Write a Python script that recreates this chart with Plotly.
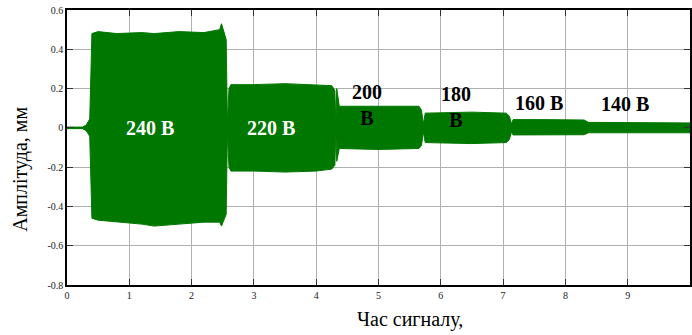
import plotly.graph_objects as go

# Envelope of the vibration signal
time_s = [0.00, 0.25, 0.31, 0.35, 0.365, 0.40, 0.50, 0.80, 1.20, 1.40, 1.80, 2.20, 2.45, 2.48, 2.52, 2.555,
          2.575, 2.60, 2.63, 3.00, 3.50, 4.00, 4.25, 4.30, 4.315, 4.33, 4.37, 5.00, 5.65, 5.69,
          5.72, 5.75, 6.50, 7.05, 7.10, 7.135, 7.16, 7.60, 8.30, 8.37, 9.00, 10.00]
upper_mm = [0.004, 0.004, 0.015, 0.035, 0.045, 0.48, 0.49, 0.48, 0.485, 0.48, 0.49, 0.485, 0.50, 0.53, 0.48, 0.45,
            0.02, 0.20, 0.22, 0.22, 0.225, 0.22, 0.215, 0.19, 0.02, 0.20, 0.11, 0.11, 0.11, 0.09,
            0.02, 0.075, 0.08, 0.075, 0.06, 0.02, 0.042, 0.042, 0.04, 0.028, 0.026, 0.025]
lower_mm = [-0.004, -0.004, -0.015, -0.035, -0.045, -0.46, -0.47, -0.48, -0.49, -0.50, -0.49, -0.48, -0.48, -0.50, -0.47, -0.44,
            -0.02, -0.20, -0.22, -0.22, -0.225, -0.22, -0.21, -0.19, -0.02, -0.17, -0.105, -0.11, -0.105, -0.09,
            -0.02, -0.075, -0.08, -0.075, -0.06, -0.02, -0.036, -0.036, -0.035, -0.025, -0.025, -0.025]

x_ticks = [0, 1, 2, 3, 4, 5, 6, 7, 8, 9, 10]
y_ticks = [0.6, 0.4, 0.2, 0, -0.2, -0.4, -0.6, -0.8]
y_tick_text = ["0.6", "0.4", "0.2", "0", "-0.2", "-0.4", "-0.6", "-0.8"]

labels = ["240 В", "220 В", "200<br>В", "180<br>В", "160 В", "140 В"]
label_x = [1.33, 3.28, 4.82, 6.25, 7.57, 8.96]
label_y = [0.0, 0.0, 0.115, 0.105, 0.127, 0.122]
label_color = ["white", "white", "black", "black", "black", "black"]

GREEN = "#007800"
SERIF = "Liberation Serif"

fig = go.Figure()
fig.add_trace(go.Scatter(
    x=time_s + time_s[::-1],
    y=upper_mm + lower_mm[::-1],
    fill="toself", fillcolor=GREEN,
    line=dict(color=GREEN, width=1),
    mode="lines", hoverinfo="skip", showlegend=False,
))

for txt, lx, ly, c in zip(labels, label_x, label_y, label_color):
    fig.add_annotation(x=lx, y=ly, text="<b>" + txt + "</b>", showarrow=False,
                       font=dict(family=SERIF, size=20, color=c))

fig.add_annotation(xref="paper", yref="paper", x=-0.075, y=0.42, text="Амплітуда, мм",
                   textangle=-90, showarrow=False, xanchor="center", yanchor="middle",
                   font=dict(family=SERIF, size=20, color="black"))
fig.add_annotation(xref="paper", yref="paper", x=0.55, y=-0.127, text="Час сигналу,",
                   showarrow=False, xanchor="center", yanchor="middle",
                   font=dict(family=SERIF, size=20, color="black"))

axis_common = dict(
    showgrid=True, gridcolor="#b0b0b0", gridwidth=1,
    showline=True, linecolor="black", linewidth=1.5, mirror="ticks",
    ticks="inside", ticklen=6, tickcolor="#333", tickwidth=1,
    tickfont=dict(family=SERIF, size=10, color="#222"),
    zeroline=False,
)
fig.update_xaxes(range=[0, 10], tickvals=x_ticks, **axis_common)
fig.update_yaxes(range=[-0.8, 0.6], tickvals=y_ticks, ticktext=y_tick_text, **axis_common)

fig.update_layout(
    width=692, height=335,
    margin=dict(l=67, r=0, t=10, b=50),
    paper_bgcolor="white", plot_bgcolor="white",
)
fig.write_html("out.html", config={"displayModeBar": False},
               post_script="document.body.style.margin='0';document.body.style.overflow='hidden';")
